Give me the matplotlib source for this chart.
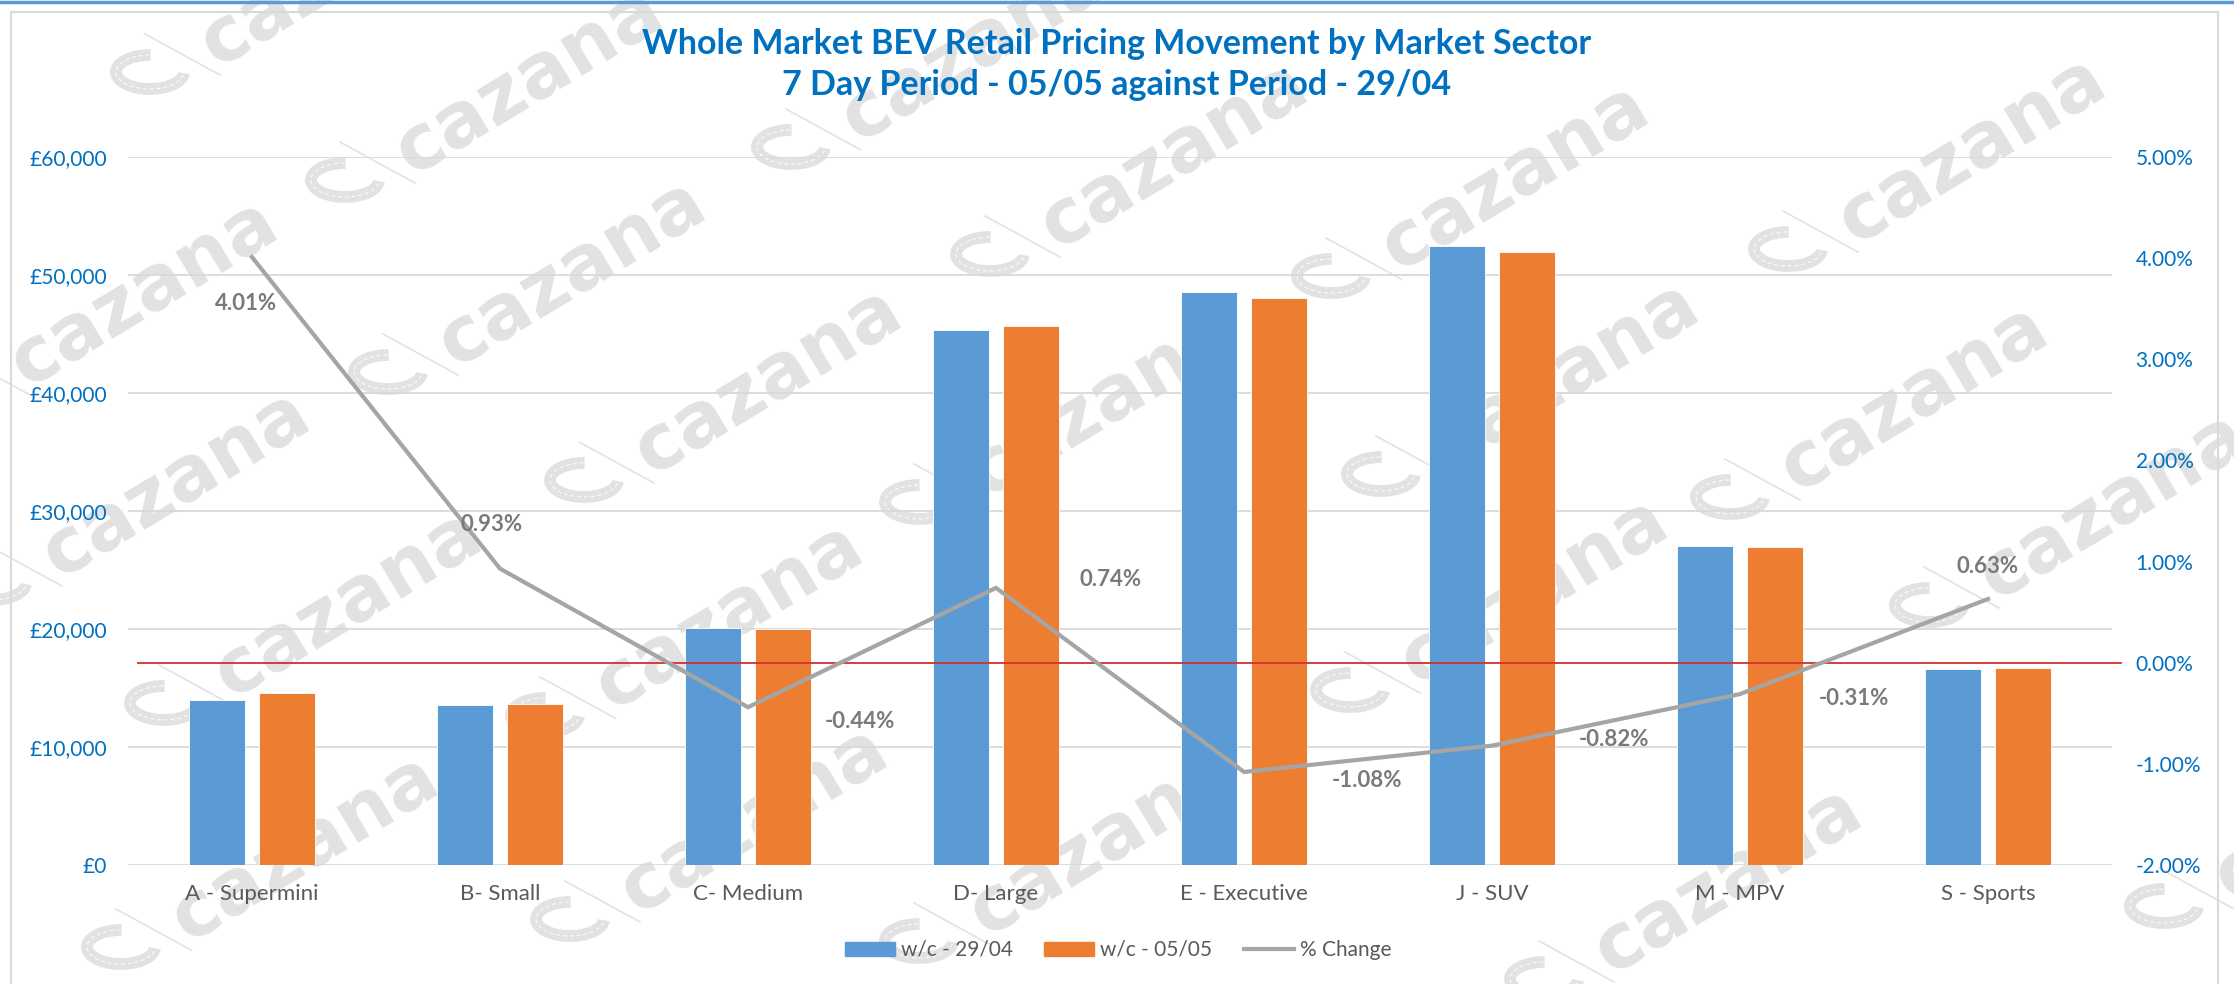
import numpy as np
import matplotlib.pyplot as plt
from matplotlib.patches import Arc, Rectangle, Patch
from matplotlib.lines import Line2D
from matplotlib.transforms import IdentityTransform
from matplotlib.ticker import FuncFormatter, MultipleLocator

plt.rcParams['font.family'] = ['Lato', 'DejaVu Sans']

# data
sectors = ['A - Supermini', 'B- Small', 'C- Medium', 'D- Large',
           'E - Executive', 'J - SUV', 'M - MPV', 'S - Sports']
price_2904 = [13980, 13530, 20110, 45300, 48560, 52420, 27060, 16610]
price_0505 = [14540, 13650, 20020, 45640, 48040, 51990, 26980, 16720]
pct_change = [4.01, 0.93, -0.44, 0.74, -1.08, -0.82, -0.31, 0.63]
series_names = ['w/c - 29/04', 'w/c - 05/05', '% Change']
title_lines = ['Whole Market BEV Retail Pricing Movement by Market Sector',
               '7 Day Period - 05/05 against Period - 29/04']

# label offsets in pixels (style only)
label_offsets = [(-6, -46), (-8, 44), (112, -14), (115, 8),
                 (123, -9), (122, 6), (114, -4), (0, 32)]

# watermark logo spots (pixels from top-left), decoration only
wm_spots = [(150, 72), (345, 180), (388, 372), (584, 480), (791, 147),
            (990, 254), (919, 502), (164, 703), (121, 947), (570, 919),
            (919, 941), (1331, 276), (1381, 474), (1788, 249), (1730, 497),
            (1929, 605), (1350, 690), (2164, 906), (545, 715), (1544, 979),
            (-40, 392), (-8, 583)]

W, H = 2234, 984
fig = plt.figure(figsize=(W / 100, H / 100), dpi=100)

BLUE = '#5B9BD5'
ORANGE = '#ED7D31'
GREY = '#A5A5A5'
WM = '#E2E2E2'

# watermark (behind the chart)
for (px, py) in wm_spots:
    yy = H - py
    fig.add_artist(Arc((px, yy), 68, 34, theta1=88, theta2=358,
                       transform=IdentityTransform(), color=WM, lw=8.5, zorder=-2))
    fig.add_artist(Arc((px, yy), 68, 34, theta1=92, theta2=354,
                       transform=IdentityTransform(), color='white', lw=0.7,
                       ls=(0, (4, 3)), zorder=-1.5))
    fig.add_artist(Line2D([px - 5, px + 70], [yy + 38, yy - 3],
                          transform=IdentityTransform(), color=WM, lw=1.2, zorder=-2))
    fig.text((px + 184) / W, (yy + 99) / H, 'cazana', rotation=31,
             rotation_mode='anchor', ha='center', va='center', fontsize=55,
             weight='bold', color=WM, family='DejaVu Sans', zorder=-2)

# frame
fig.add_artist(Line2D([0, 1], [1 - 1.5 / H] * 2, transform=fig.transFigure,
                      color=BLUE, lw=2.5))
fig.add_artist(Rectangle((11, -10), 2207, H - 12 + 10, transform=IdentityTransform(),
                         fill=False, edgecolor='#D9D9D9', lw=1.5))

left, right, top, bottom = 128, 2112, 157, 865
ax = fig.add_axes([left / W, 1 - bottom / H, (right - left) / W, (bottom - top) / H])
ax.set_facecolor('none')
ax2 = ax.twinx()

x = np.arange(len(sectors))
ax.bar(x - 0.143, price_2904, width=0.226, color=BLUE, edgecolor='white', lw=0.6, zorder=2)
ax.bar(x + 0.143, price_0505, width=0.226, color=ORANGE, edgecolor='white', lw=0.6, zorder=2)

ax.set_xlim(-0.5, len(sectors) - 0.5)
ax.set_ylim(0, 60000)
ax.yaxis.set_major_locator(MultipleLocator(10000))
ax.yaxis.set_major_formatter(FuncFormatter(lambda v, p: '£{:,.0f}'.format(v)))
ax.grid(axis='y', color='#D9D9D9', lw=1.3, zorder=0)
ax.set_axisbelow(True)
ax.set_xticks(x)
ax.set_xticklabels(sectors)
ax.tick_params(axis='x', length=0, pad=14, labelsize=16, labelcolor='#595959')
ax.tick_params(axis='y', length=0, pad=15, labelsize=15, labelcolor='#0070C0')

pct = np.array(pct_change) / 100
ax2.set_ylim(-0.02, 0.05)
ax2.yaxis.set_major_locator(MultipleLocator(0.01))
ax2.yaxis.set_major_formatter(FuncFormatter(lambda v, p: '{:.2f}%'.format(v * 100)))
ax2.tick_params(axis='y', length=0, pad=17, labelsize=15, labelcolor='#0070C0')
ax2.axhline(0, xmin=0.005, xmax=1.0045, color='#D03030', lw=1.3, clip_on=False, zorder=3)
ax2.plot(x, pct, color=GREY, lw=3, solid_joinstyle='miter', zorder=4)

for xi, v, (dx, dy) in zip(x, pct_change, label_offsets):
    ax2.annotate('{:.2f}%'.format(v), (xi, v / 100), xytext=(dx, dy),
                 textcoords='offset pixels', ha='center', va='center',
                 fontsize=16, weight='bold', color='#7A7A7A', zorder=5)

for a in (ax, ax2):
    for s in a.spines.values():
        s.set_visible(False)

fig.text(0.5, 1 - 44 / H, title_lines[0], ha='center', va='center',
         fontsize=24.5, weight='bold', color='#0070C0')
fig.text(0.5, 1 - 85 / H, title_lines[1], ha='center', va='center',
         fontsize=24.5, weight='bold', color='#0070C0')

handles = [Patch(color=BLUE), Patch(color=ORANGE), Line2D([], [], color=GREY, lw=3)]
fig.legend(handles, series_names, loc='center', bbox_to_anchor=(1118 / W, 1 - 950 / H),
           ncol=3, frameon=False, fontsize=15, labelcolor='#595959',
           handlelength=2.4, handleheight=0.65, handletextpad=0.3, columnspacing=1.5)

fig.savefig('out.png', dpi=100)
